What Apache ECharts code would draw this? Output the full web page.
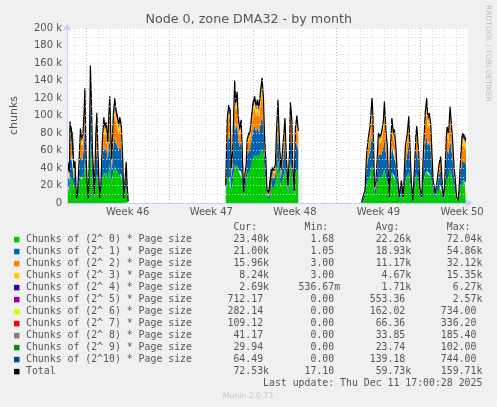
<!DOCTYPE html>
<html><head><meta charset="utf-8">
<script src="https://cdn.jsdelivr.net/npm/echarts@6/dist/echarts.min.js"></script>
<style>html,body{margin:0;padding:0;background:#F0F0F0}#c{width:497px;height:407px}</style>
</head><body><div id="c"></div>
<script>
// time of each sample, hours since Mon 10 Nov 2025 00:00 (null rows = gaps in the data)
const hours = [-37,-35,-33,-32,-29,-26,-24,-22,-19,-17,-14,-11,-9,-6,-4,-2,0,3,5,7,9,11,13,15,17,20,22,24,26,28,30,33,36,38,41,44,46,48,50,52,55,58,60,63,66,68,71,74,76,78,81,83,85,
180,
281,284,287,290,292,295,299,301,304,306,309,312,314,317,319,322,324,327,330,333,336,339,342,345,348,351,354,357,359,362,364,367,370,373,376,378,381,383,386,389,392,395,398,400,403,406,409,411,414,416,419,421,424,427,
490,
554,557,561,564,567,571,575,577,580,583,586,588,591,594,598,600,603,606,608,610,612,615,618,620,623,626,630,634,638,642,646,649,651,654,657,661,663,665,669,671,675,678,682,685,687,690,693,695,698,702,706,710,713,716,718,721,724,726,729,732,734,737,740,742,745,748,750,753,756,758,761,764];

// values in thousands of chunks
const total = [45,47,35,93,80,78,40,48,5,10,45,85,75,78,100,131,60,15,5.1,60,157,120,60,40,10,80,103,60,30,5.1,20,70,98,88,92,70,100,122,80,50,100,120,108,100,90,98,90,50,5.1,20,47,20,1.9,
null,
20,95,112,106,40,60,140,115,127,100,85,95,65,12,30,43,72,79,82,99,115,122,112,118,110,128,143,118,77,45,15,11,13,40,42,37,45,80,118,70,38,58,80,97,52,20,55,115,95,40,14,85,100,82,
null,
1,7,15,53,72,87,120,100,18,25,57,80,76,80,95,116,83,64,30,7,60,97,80,84,64,34,7,26,7,64,80,99,70,26,3,45,75,88,57,18,7,53,103,120,99,103,91,64,26,11,26,45,53,26,7,18,72,87,80,110,95,72,41,30,7,3,15,49,76,80,76,72.53];

const c0 = [18,19,14,30,28,26,16,20,2.1,4,20,30,26,28,35,50,30,7,2.5,30,70,52,28,20,5,25,33,24,14,2.5,10,28,34,32,34,27,36,45,32,22,36,42,38,35,33,35,33,22,2.5,10,22,10,1,
null,
8,28,32,30,14,22,45,40,43,38,34,36,27,5,13,20,33,37,38,45,52,55,52,55,52,58,62,55,38,22,6,4,5,18,19,17,20,36,50,33,18,26,34,40,24,9,25,45,38,18,6,34,39,33,
null,
0.5,3,6.5,21,27,32,42,37,8,11,22,29,28,29,34,39,30,24,13,3,23,35,30,31,25,15,3,11.5,3,25,30,36,27,11.5,1.4,19,29,33,23,8,3,21,34,37,33,34,31,24,11.5,5,11.5,19,21,11.5,3,8,27,32,30,39,35,27,17,13,3,1.4,6.5,18,25,26,25,23.4];

const c1 = [14,15,11,24,22,24,12,15,1.5,3,14,25,22,24,32,42,17,5,1.5,18,50,38,19,12,3,24,32,19,9,1.5,6,22,32,28,29,22,30,36,24,15,28,35,32,30,27,30,28,15,1.5,6,14,6,0.5,
null,
6,36,45,42,14,20,54,43,48,36,30,34,22,4,10,13,21,22,23,27,31,33,30,31,28,33,38,30,20,12,4,3,3.5,12,12.5,11,13,22,33,19,11,17,24,29,15,6,16,34,29,12,4,26,31,25,
null,
0.3,2,4.5,17,23,28,36,32,5.5,8,18,26,25,26,30,36,27,21,9,2,19,31,26,27,20,10,2,8,2,20,26,32,22,8,0.8,14,24,28,18,5.5,2,17,35,40,33,35,31,21,8,3.2,8,14,17,8,2,5.5,23,28,26,34,30,23,13,9,2,0.8,4.5,15,22,23,22,21];

const c2 = [8,8,6,25,19,17,8,8,0.9,2,7,19,17,16,20,24,8,2,0.6,8,23,19,8,5,1.2,20,24,11,4.5,0.6,2.6,13,20,17,17,13,21,25,15,8,22,26,23,21,18,20,17,8,0.6,2.6,7,2.6,0.2,
null,
4,20,23,22,8,12,26,21,22,16,13,15,10,2,4.5,6,11,12,13,16,19,21,18,19,18,22,27,20,12,7,3,2.4,2.8,6,6.5,5.5,7.5,13,21,11,5.5,9,13,17,8,3,9,21,17,6,2.5,15,18,15,
null,
0.1,1,2.4,9,13,16,25,19,2.8,3.9,11,16,15,16,20,26,17,12,4.9,1,12,20,15,16,12,5.5,1,4,1,12,15,20,13,4,0.4,7.5,14,17,10,2.8,1,9,21,26,20,21,18,12,4,1.6,4,7.5,9,4,1,2.8,13,16,15,23,19,13,6.5,4.9,1,0.4,2.4,10,17,18,17,15.96];

const c3 = [3,3,2.5,9,6.9,6.9,2.4,2.9,0.2,0.6,2.4,6.9,5.9,6.4,7.9,9.4,2.7,0.6,0.2,1.9,7.4,5.9,2.7,1.6,0.4,6.9,8.9,3.4,1.3,0.2,0.9,4.1,7.4,6.9,6.9,4.9,7.9,10,5.4,3.2,8.9,10,9.4,8.9,7.4,7.9,7.4,3.2,0.2,0.9,2.4,0.9,0.1,
null,
1.2,6.4,6.4,6.4,2.4,3.9,9.4,6.4,8.4,5.4,4.9,5.4,3.9,0.6,1.4,2,4,4.9,4.9,6.4,6.9,7.9,6.9,7.4,6.9,8.9,10.9,7.9,4.4,2.4,1.3,1,1,2.4,2.4,2.2,2.9,4.9,7.9,3.9,2.4,3.9,4.9,6.4,2.9,1.3,3,9,7.4,2.4,1,5.9,6.9,5.9,
null,
0.05,0.5,1,3.9,5.9,7.4,10.4,8.4,1,1.5,3.9,5.9,5.4,5.9,7.4,10.4,6.9,4.9,1.9,0.5,4.4,7.4,5.9,6.4,4.9,2.4,0.5,1.5,0.5,4.9,5.9,7.4,5.4,1.5,0.15,3,5.4,6.4,4.4,1,0.5,3.9,8.4,10.4,8.4,8.4,7.4,4.9,1.5,0.7,1.5,3,3.9,1.5,0.5,1,5.9,7.4,5.9,9.4,7.4,5.9,2.9,1.9,0.5,0.15,1,4,8,8,7.9,8.24];

const c4 = [1.4,1.4,1,3.4,3,3,1,1.5,0.1,0.2,1,3,3,2.5,3.5,4,1.2,0.2,0.1,1,5,3.5,1.2,0.8,0.2,3,3.5,1.5,0.6,0.1,0.3,1.8,3,3,3.5,2,3.5,4.4,2.5,1.2,3.5,5.4,4,3.5,3,3.5,3,1.2,0.1,0.3,1,0.3,0.05,
null,
0.6,3,4,4,1,1,4,3,4,3,2,3,1,0.2,0.5,1.4,1.9,2,2,3,4.5,3.5,3.5,4,3.5,4.5,3.5,3.5,1.5,1,0.5,0.4,0.5,1,1,0.7,1,3,4.5,2,0.5,1,3,3,1,0.5,0.9,4.4,2,1,0.3,3,3.5,2,
null,
0.02,0.3,0.4,1,2,2.5,5,2,0.5,0.5,1,2,1.5,2,2,3,1,1,0.6,0.3,0.5,2,2,2.5,1,0.5,0.3,0.4,0.3,1,2,2,1.5,0.4,0.05,0.9,1.5,2.5,0.5,0.5,0.3,1,3,5,3,3,2,1,0.4,0.3,0.4,0.9,1,0.4,0.3,0.5,2,2.5,2,3,2,2,1,0.6,0.3,0.05,0.4,1.4,2.9,3.9,3,2.69];

const c5 = [.36,.38,.33,.92,.66,.64,.34,.37,.1,.12,.35,.68,.63,.66,.95,1.02,.62,.11,.09,.6,1.1,.98,.64,.33,.1,.67,.94,.62,.34,.09,.12,.66,.93,.7,.96,.63,.97,1.05,.68,.36,.94,1.01,.97,.93,.9,.95,.92,.34,.1,.11,.37,.1,.02,
null,
.1,.93,.98,.95,.36,.62,1.08,.96,1.0,.92,.66,.94,.63,.1,.34,.38,.64,.67,.69,.95,.99,1.02,.97,1.0,.96,1.04,1.1,.98,.66,.37,.11,.09,.1,.35,.36,.34,.38,.65,.99,.64,.35,.62,.66,.94,.63,.1,.64,.98,.93,.36,.1,.67,.95,.65,
null,
.02,.1,.11,.62,.65,.68,1.05,.95,.12,.33,.63,.66,.64,.67,.94,1.01,.65,.62,.35,.1,.63,.96,.66,.67,.63,.36,.1,.34,.1,.64,.66,.97,.64,.35,.09,.37,.65,.68,.62,.11,.1,.63,.98,1.06,.95,.97,.93,.64,.34,.1,.35,.37,.64,.35,.1,.11,.65,.68,.66,1.0,.96,.65,.36,.34,.1,.09,.11,.37,.66,.69,.68,.71];

const c6 = [.1,.11,.09,.26,.18,.17,.1,.1,.03,.03,.1,.19,.18,.17,.26,.28,.18,.03,.03,.17,.3,.27,.18,.1,.03,.18,.26,.17,.1,.03,.03,.18,.25,.19,.26,.18,.26,.28,.18,.1,.26,.27,.26,.25,.25,.26,.25,.1,.03,.03,.1,.03,.01,
null,
.03,.25,.27,.26,.1,.17,.29,.26,.27,.25,.18,.26,.17,.03,.1,.11,.18,.18,.19,.26,.27,.28,.26,.27,.26,.28,.3,.27,.18,.1,.03,.03,.03,.1,.1,.1,.11,.18,.27,.18,.1,.17,.18,.26,.17,.03,.18,.27,.25,.1,.03,.18,.26,.18,
null,
.01,.03,.03,.17,.18,.18,.28,.26,.03,.1,.17,.18,.18,.18,.26,.27,.18,.17,.1,.03,.17,.26,.18,.18,.17,.1,.03,.1,.03,.17,.18,.27,.18,.1,.03,.1,.18,.18,.17,.03,.03,.17,.27,.29,.26,.26,.25,.17,.1,.03,.1,.1,.17,.1,.03,.03,.18,.18,.18,.27,.26,.18,.1,.1,.03,.03,.03,.1,.18,.19,.18,.28];

const c7 = [.04,.04,.04,.11,.08,.08,.04,.04,.01,.01,.04,.08,.08,.08,.11,.12,.08,.01,.01,.08,.13,.11,.08,.04,.01,.08,.11,.08,.04,.01,.01,.08,.11,.08,.11,.08,.11,.12,.08,.04,.11,.11,.11,.11,.11,.11,.11,.04,.01,.01,.04,.01,0,
null,
.01,.11,.11,.11,.04,.08,.12,.11,.11,.11,.08,.11,.08,.01,.04,.04,.08,.08,.08,.11,.11,.12,.11,.11,.11,.12,.13,.11,.08,.04,.01,.01,.01,.04,.04,.04,.04,.08,.11,.08,.04,.08,.08,.11,.08,.01,.08,.11,.11,.04,.01,.08,.11,.08,
null,
0,.01,.01,.08,.08,.08,.12,.11,.01,.04,.08,.08,.08,.08,.11,.11,.08,.08,.04,.01,.08,.11,.08,.08,.08,.04,.01,.04,.01,.08,.08,.11,.08,.04,.01,.04,.08,.08,.08,.01,.01,.08,.11,.12,.11,.11,.11,.08,.04,.01,.04,.04,.08,.04,.01,.01,.08,.08,.08,.11,.11,.08,.04,.04,.01,.01,.01,.04,.08,.08,.08,.11];

const c8 = [.02,.02,.02,.05,.04,.04,.02,.02,.01,.01,.02,.04,.04,.04,.05,.06,.04,.01,.01,.04,.07,.05,.04,.02,.01,.04,.05,.04,.02,.01,.01,.04,.05,.04,.05,.04,.05,.06,.04,.02,.05,.05,.05,.05,.05,.05,.05,.02,.01,.01,.02,.01,0,
null,
.01,.05,.05,.05,.02,.04,.06,.05,.05,.05,.04,.05,.04,.01,.02,.02,.04,.04,.04,.05,.05,.06,.05,.05,.05,.06,.06,.05,.04,.02,.01,.01,.01,.02,.02,.02,.02,.04,.05,.04,.02,.04,.04,.05,.04,.01,.04,.05,.05,.02,.01,.04,.05,.04,
null,
0,.01,.01,.04,.04,.04,.06,.05,.01,.02,.04,.04,.04,.04,.05,.05,.04,.04,.02,.01,.04,.05,.04,.04,.04,.02,.01,.02,.01,.04,.04,.05,.04,.02,.01,.02,.04,.04,.04,.01,.01,.04,.05,.06,.05,.05,.05,.04,.02,.01,.02,.02,.04,.02,.01,.01,.04,.04,.04,.05,.05,.04,.02,.02,.01,.01,.01,.02,.04,.04,.04,.04];

const c9 = [.02,.02,.02,.04,.03,.03,.02,.02,.01,.01,.02,.03,.03,.03,.04,.04,.03,.01,.01,.03,.05,.04,.03,.02,.01,.03,.04,.03,.02,.01,.01,.03,.04,.03,.04,.03,.04,.04,.03,.02,.04,.04,.04,.04,.04,.04,.04,.02,.01,.01,.02,.01,0,
null,
.01,.04,.04,.04,.02,.03,.04,.04,.04,.04,.03,.04,.03,.01,.02,.02,.03,.03,.03,.04,.04,.04,.04,.04,.04,.04,.05,.04,.03,.02,.01,.01,.01,.02,.02,.02,.02,.03,.04,.03,.02,.03,.03,.04,.03,.01,.03,.04,.04,.02,.01,.03,.04,.03,
null,
0,.01,.01,.03,.03,.03,.04,.04,.01,.02,.03,.03,.03,.03,.04,.04,.03,.03,.02,.01,.03,.04,.03,.03,.03,.02,.01,.02,.01,.03,.03,.04,.03,.02,.01,.02,.03,.03,.03,.01,.01,.03,.04,.04,.04,.04,.04,.03,.02,.01,.02,.02,.03,.02,.01,.01,.03,.03,.03,.04,.04,.03,.02,.02,.01,.01,.01,.02,.03,.03,.03,.03];

const c10 = [.08,.08,.08,.22,.15,.15,.08,.08,.03,.03,.08,.15,.15,.15,.22,.24,.15,.03,.03,.15,.26,.22,.15,.08,.03,.15,.22,.15,.08,.03,.03,.15,.22,.15,.22,.15,.22,.23,.15,.08,.22,.22,.22,.22,.22,.22,.22,.08,.03,.03,.08,.03,.01,
null,
.03,.22,.22,.22,.08,.15,.24,.22,.22,.22,.15,.22,.15,.03,.08,.08,.15,.15,.15,.22,.22,.23,.22,.22,.22,.23,.25,.22,.15,.08,.03,.03,.03,.08,.08,.08,.08,.15,.22,.15,.08,.15,.15,.22,.15,.03,.15,.22,.22,.08,.03,.15,.22,.15,
null,
.01,.03,.03,.15,.15,.15,.23,.22,.03,.08,.15,.15,.15,.15,.22,.22,.15,.15,.08,.03,.15,.22,.15,.15,.15,.08,.03,.08,.03,.15,.15,.22,.15,.08,.03,.08,.15,.15,.15,.03,.03,.15,.22,.23,.22,.22,.22,.15,.08,.03,.08,.08,.15,.08,.03,.03,.15,.15,.15,.22,.22,.15,.08,.08,.03,.03,.03,.08,.15,.15,.15,.06];

const seriesNames = ['Chunks of (2^ 0) * Page size','Chunks of (2^ 1) * Page size','Chunks of (2^ 2) * Page size','Chunks of (2^ 3) * Page size','Chunks of (2^ 4) * Page size','Chunks of (2^ 5) * Page size','Chunks of (2^ 6) * Page size','Chunks of (2^ 7) * Page size','Chunks of (2^ 8) * Page size','Chunks of (2^ 9) * Page size','Chunks of (2^10) * Page size','Total'];
const colors = ['#00CC00','#0066B3','#FF8000','#FFCC00','#330099','#990099','#CCFF00','#FF0000','#808080','#008F00','#00487D','#000000'];
const curText = ['23.40k','21.00k','15.96k','8.24k','2.69k','712.17','282.14','109.12','41.17','29.94','64.49','72.53k'];
const minText = ['1.68','1.05','3.00','3.00','536.67m','0.00','0.00','0.00','0.00','0.00','0.00','17.10'];
const avgText = ['22.26k','18.93k','11.17k','4.67k','1.71k','553.36','162.02','66.36','33.85','23.74','139.18','59.73k'];
const maxText = ['72.04k','54.86k','32.12k','15.35k','6.27k','2.57k','734.00','336.20','185.40','102.00','744.00','159.71k'];
const weekLabels = ['Week 46','Week 47','Week 48','Week 49','Week 50'];
const weekStartHours = [0,168,336,504,672];
const lastUpdate = 'Last update: Thu Dec 11 17:00:28 2025';

const T0 = Date.UTC(2025,10,10);
const H = 3600e3;
const hMin = -38, hMax = 768;
const dayLines = [];
for (let d = -24; d <= 744; d += 24) if (d % 168 !== 0) dayLines.push(d);
const weekMids = weekStartHours.map(h => h + 84);

const comps = [c0,c1,c2,c3,c4,c5,c6,c7,c8,c9,c10];
const series = comps.map((arr, i) => ({
  name: seriesNames[i], type: 'line', stack: 'chunks', xAxisIndex: 0, yAxisIndex: 0,
  data: hours.map((h, j) => [T0 + h*H, arr[j]]),
  showSymbol: false, symbol: 'none', silent: true,
  lineStyle: {width: 0}, areaStyle: {color: colors[i], opacity: 1}, itemStyle: {color: colors[i]}
}));
series.push({
  name: 'Total', type: 'line', xAxisIndex: 0, yAxisIndex: 0,
  data: hours.map((h, j) => [T0 + h*H, total[j]]),
  showSymbol: false, symbol: 'none', silent: true,
  lineStyle: {color: '#000', width: 1.2}, itemStyle: {color: '#000'}
});

const mono = 'DejaVu Sans Mono';
const fmt = s => (/[a-z]$/.test(s) ? s : s + ' ').padStart(7);
const graphics = [];
graphics.push({type:'text', x:248.7, y:20, style:{text:'Node 0, zone DMA32 - by month', font:'12.7px "DejaVu Sans"', fill:'#555', align:'center', verticalAlign:'middle'}});
graphics.push({type:'text', x:14, y:115.5, rotation:Math.PI/2, style:{text:'chunks', font:'11px "DejaVu Sans"', fill:'#555', align:'center', verticalAlign:'middle'}});
graphics.push({type:'text', x:488, y:53.4, rotation:-Math.PI/2, style:{text:'RRDTOOL / TOBI OETIKER', font:'7.5px "DejaVu Sans"', fill:'#bbb', align:'center', verticalAlign:'middle'}});
const header = ' '.repeat(35) + 'Cur:' + ' '.repeat(8) + 'Min:' + ' '.repeat(8) + 'Avg:' + ' '.repeat(8) + 'Max:';
graphics.push({type:'text', x:26, y:227.5, style:{text:header, font:'9.85px "'+mono+'"', fill:'#555', align:'left', verticalAlign:'middle'}});
seriesNames.forEach((n, i) => {
  const cy = 239.6 + 12*i;
  graphics.push({type:'rect', shape:{x:14, y:cy-2.75, width:5.5, height:5.5}, style:{fill:colors[i]}});
  const row = n.padEnd(34) + fmt(curText[i]) + '     ' + fmt(minText[i]) + '     ' + fmt(avgText[i]) + '     ' + fmt(maxText[i]);
  graphics.push({type:'text', x:26, y:cy, style:{text:row, font:'9.85px "'+mono+'"', fill:'#555', align:'left', verticalAlign:'middle'}});
});
graphics.push({type:'text', x:26, y:383.5, style:{text:lastUpdate.padStart(77), font:'9.85px "'+mono+'"', fill:'#555', align:'left', verticalAlign:'middle'}});
graphics.push({type:'text', x:248, y:396, style:{text:'Munin 2.0.73', font:'7.7px "DejaVu Sans"', fill:'#c4c4c4', align:'center', verticalAlign:'middle'}});

const axisCol = '#c8ccff';
const minorGrid = {show:true, lineStyle:{color:'#d6d6d6', type:[1,2], width:1}};
const majorGrid = {show:true, lineStyle:{color:'#e6a6a6', type:[1,2], width:1}};
const nearestWeek = v => { let k = 0, best = Infinity; weekMids.forEach((m, i) => { if (Math.abs(m - v) < best) { best = Math.abs(m - v); k = i; } }); return weekLabels[k]; };

const chart = echarts.init(document.getElementById('c'), null, {renderer:'canvas'});
chart.setOption({
  backgroundColor: '#F0F0F0',
  animation: false,
  textStyle: {fontFamily: 'DejaVu Sans'},
  grid: {left:67, top:28, width:401, height:175, show:true, backgroundColor:'#FFFFFF', borderWidth:0},
  xAxis: [
    {type:'time', min:T0 + hMin*H, max:T0 + hMax*H,
     axisLine:{show:true, onZero:false, lineStyle:{color:axisCol}, symbol:['none','arrow'], symbolSize:[6,8], symbolOffset:[0,5]},
     axisTick:{show:false}, axisLabel:{show:false}, splitLine:{show:false}, z:5},
    {type:'value', min:hMin, max:hMax, position:'bottom',
     axisLine:{show:false, onZero:false}, axisTick:{show:false, customValues: dayLines}, axisLabel:{show:false}, splitLine: minorGrid},
    {type:'value', min:hMin, max:hMax, position:'bottom',
     axisLine:{show:false, onZero:false}, axisTick:{show:false, customValues: weekStartHours},
     axisLabel:{show:true, customValues: weekMids, color:'#555', fontSize:10, margin:4, fontFamily:'DejaVu Sans', formatter: nearestWeek},
     splitLine: majorGrid}
  ],
  yAxis: [
    {type:'value', min:0, max:200, interval:10,
     axisLine:{show:true, onZero:false, lineStyle:{color:axisCol}, symbol:['none','arrow'], symbolSize:[6,8], symbolOffset:[0,5]},
     axisTick:{show:false}, axisLabel:{show:false}, splitLine: minorGrid, z:5},
    {type:'value', min:0, max:200, interval:20, position:'left', offset:0,
     axisLine:{show:false, onZero:false}, axisTick:{show:false},
     axisLabel:{color:'#555', fontSize:10, margin:5, fontFamily:'DejaVu Sans', formatter: v => v === 0 ? '0' : v + ' k'},
     splitLine: majorGrid}
  ],
  series: series,
  graphic: graphics
});
</script>
</body></html>
